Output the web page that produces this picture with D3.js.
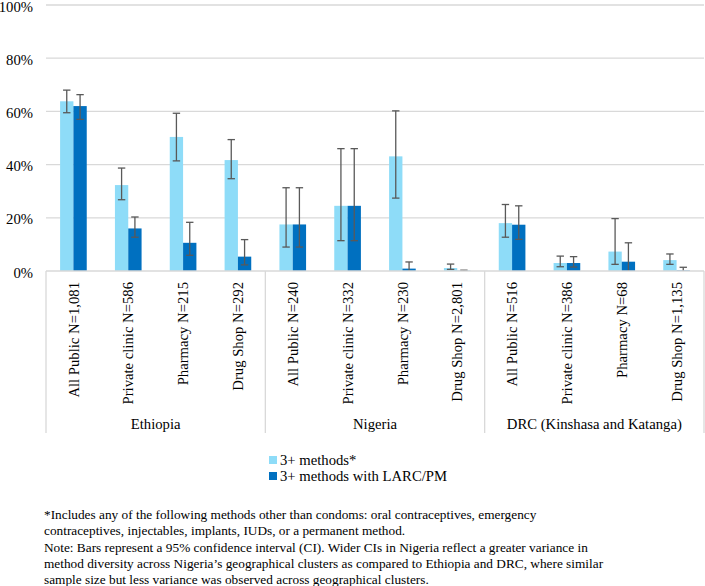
<!DOCTYPE html>
<html>
<head>
<meta charset="utf-8">
<script src="https://cdn.jsdelivr.net/npm/d3@7"></script>
<style>
  html, body { margin: 0; padding: 0; background: #fff; }
  svg text { font-family: "Liberation Serif", "Times New Roman", Times, "DejaVu Serif", serif; }
</style>
</head>
<body>
<svg id="chart" width="705" height="586"></svg>
<script>
const categories = ["All Public N=1,081", "Private clinic N=586", "Pharmacy N=215", "Drug Shop N=292",
  "All Public N=240", "Private clinic N=332", "Pharmacy N=230", "Drug Shop N=2,801",
  "All Public N=516", "Private clinic N=386", "Pharmacy N=68", "Drug Shop N=1,135"];
const groups = ["Ethiopia", "Nigeria", "DRC (Kinshasa and Katanga)"];
const seriesNames = ["3+ methods*", "3+ methods with LARC/PM"];
const methods3 = [63.8, 32.3, 50.4, 41.7, 17.5, 24.5, 43.1, 1.1, 18.0, 3.0, 7.3, 4.1];
const methods3Low = [59.5, 26.8, 41.4, 34.7, 9.0, 11.4, 27.4, 0.6, 12.7, 1.6, 2.5, 2.5];
const methods3High = [68.0, 38.7, 59.3, 49.4, 31.3, 46.0, 60.2, 2.6, 25.0, 5.6, 19.7, 6.4];
const larc = [62.0, 16.0, 10.6, 5.4, 17.5, 24.5, 0.9, 0.1, 17.4, 3.0, 3.5, 0.2];
const larcLow = [57.0, 12.7, 5.9, 2.3, 9.0, 11.4, 0.0, 0.0, 11.9, 1.5, 0.0, 0.0];
const larcHigh = [66.3, 20.3, 18.3, 11.8, 31.3, 46.0, 3.4, 0.3, 24.5, 5.4, 10.6, 1.4];
const yTicks = [0, 20, 40, 60, 80, 100];
const footnote = [
  "*Includes any of the following methods other than condoms: oral contraceptives, emergency",
  "contraceptives, injectables, implants, IUDs, or a permanent method.",
  "Note: Bars represent a 95% confidence interval (CI). Wider CIs in Nigeria reflect a greater variance in",
  "method diversity across Nigeria\u2019s geographical clusters as compared to Ethiopia and DRC, where similar",
  "sample size but less variance was observed across geographical clusters."
];

(function () {
const FONT = "'Liberation Serif', 'Times New Roman', Times, 'DejaVu Serif', serif";
const colors = ["#8EDCF8", "#0070C0"];
const svg = d3.select("#chart");
const pLeft = 46, pRight = 704, pTop = 5, pBottom = 271;
const fs = 14.7;

const x0 = d3.scaleBand().domain(d3.range(categories.length)).range([pLeft, pRight]).padding(0);
const bw = x0.bandwidth();
const x1 = d3.scaleBand().domain([0, 1]).range([bw * 0.257, bw * 0.743]).padding(0);
const y = d3.scaleLinear().domain([0, 100]).range([pBottom, pTop]);
const xg = d3.scaleBand().domain(groups).range([pLeft, pRight]).padding(0);

// gridlines
svg.append("g").selectAll("line").data(yTicks.filter(t => t > 0)).join("line")
  .attr("x1", pLeft).attr("x2", pRight)
  .attr("y1", d => y(d)).attr("y2", d => y(d))
  .attr("stroke", "#d9d9d9").attr("stroke-width", 1.3);

// y axis labels
const yAxis = d3.axisLeft(y).tickValues(yTicks).tickFormat(d => d + "%").tickSize(0).tickPadding(13);
const ya = svg.append("g").attr("transform", `translate(${pLeft},0)`).call(yAxis)
  .attr("font-family", FONT).attr("font-size", fs);
ya.select(".domain").remove();
ya.selectAll("text").attr("font-family", FONT).attr("font-size", fs).attr("fill", "#000").attr("dy", "0.42em");

// bars
const seriesVals = [methods3, larc];
const seriesLow = [methods3Low, larcLow];
const seriesHigh = [methods3High, larcHigh];
const barData = [];
categories.forEach((c, i) => {
  [0, 1].forEach(s => barData.push({ i, s, v: seriesVals[s][i], lo: seriesLow[s][i], hi: seriesHigh[s][i] }));
});

svg.append("g").selectAll("rect").data(barData).join("rect")
  .attr("x", d => x0(d.i) + x1(d.s))
  .attr("width", x1.bandwidth())
  .attr("y", d => y(d.v))
  .attr("height", d => y(0) - y(d.v))
  .attr("fill", d => colors[d.s]);

// error bars
const eb = svg.append("g").attr("stroke", "#595959").attr("stroke-width", 1.3);
barData.forEach(d => {
  const cx = x0(d.i) + x1(d.s) + x1.bandwidth() / 2;
  eb.append("line").attr("x1", cx).attr("x2", cx).attr("y1", y(d.hi)).attr("y2", y(d.lo));
  eb.append("line").attr("x1", cx - 3.7).attr("x2", cx + 3.7).attr("y1", y(d.hi)).attr("y2", y(d.hi));
  if (d.lo > 0) eb.append("line").attr("x1", cx - 3.7).attr("x2", cx + 3.7).attr("y1", y(d.lo)).attr("y2", y(d.lo));
});

// x axis baseline
svg.append("line").attr("x1", pLeft).attr("x2", pRight).attr("y1", pBottom).attr("y2", pBottom)
  .attr("stroke", "#d9d9d9").attr("stroke-width", 1.3);

// group separators
const sepX = groups.map(g => xg(g)).concat([pRight]);
svg.append("g").selectAll("line").data(sepX).join("line")
  .attr("x1", d => d).attr("x2", d => d).attr("y1", pBottom).attr("y2", 433)
  .attr("stroke", "#d9d9d9").attr("stroke-width", 1.3);

// category labels
svg.append("g").selectAll("text").data(categories).join("text")
  .attr("transform", (d, i) => `translate(${x0(i) + bw / 2},282) rotate(-90)`)
  .attr("text-anchor", "end").attr("dy", "0.35em")
  .attr("font-family", FONT).attr("font-size", fs).attr("fill", "#000")
  .text(d => d);

// group labels
svg.append("g").selectAll("text").data(groups).join("text")
  .attr("x", d => xg(d) + xg.bandwidth() / 2).attr("y", 424)
  .attr("text-anchor", "middle").attr("dy", "0.35em")
  .attr("font-family", FONT).attr("font-size", fs).attr("fill", "#000")
  .text(d => d);

// legend
const lg = svg.append("g");
seriesNames.forEach((n, s) => {
  lg.append("rect").attr("x", 269).attr("y", 456 + s * 16).attr("width", 8).attr("height", 8).attr("fill", colors[s]);
  lg.append("text").attr("x", 280).attr("y", 460 + s * 16).attr("dy", "0.35em")
    .attr("font-family", FONT).attr("font-size", fs).attr("fill", "#000").text(n);
});

// footnote
svg.append("g").selectAll("text").data(footnote).join("text")
  .attr("x", 44).attr("y", (d, i) => 514.5 + i * 16.3).attr("dy", "0.35em")
  .attr("font-family", FONT).attr("font-size", 13.3).attr("fill", "#000")
  .text(d => d);
})();
</script>
</body>
</html>
